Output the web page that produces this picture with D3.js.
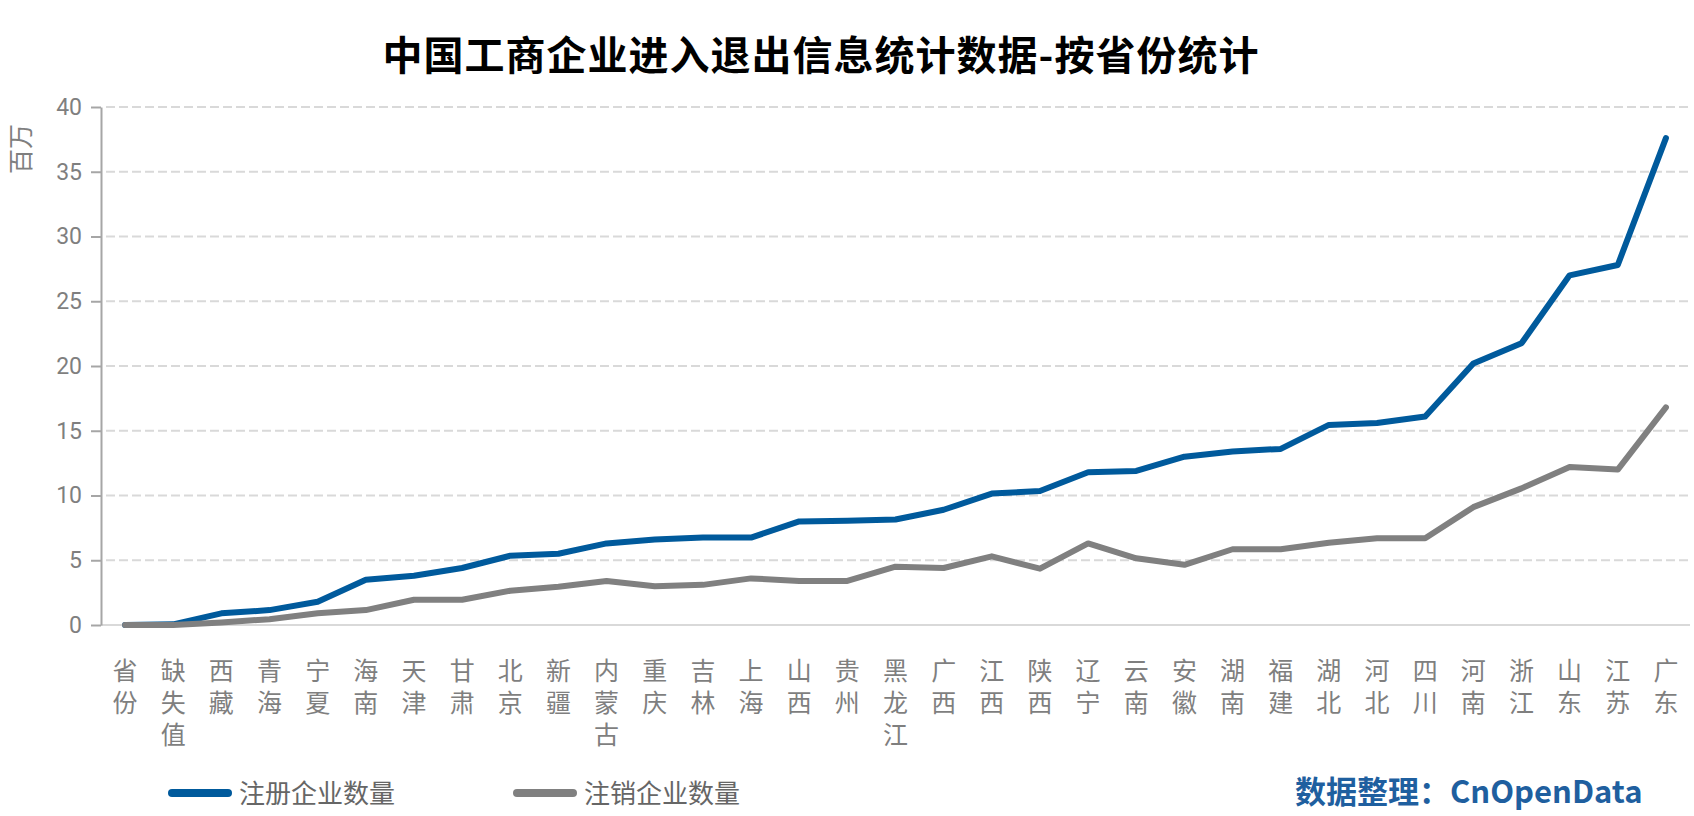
<!DOCTYPE html>
<meta charset="utf-8">
<style>
body { margin: 0; background: #fff; }
svg { display: block; }
.title { font-family: "Noto Sans CJK SC"; font-weight: bold; font-size: 40px; fill: #000; }
.axis--y text { font-family: Roboto, "Noto Sans"; font-size: 23px; fill: #7f7f7f; }
.axis--y path, .axis--y line { stroke: #a6a6a6; stroke-width: 2px; }
.xlabel { font-family: "Liberation Sans", "Noto Sans CJK SC"; font-size: 25px; fill: #7f7f7f; }
.grid line { stroke: #d9d9d9; stroke-width: 2px; stroke-dasharray: 9,4; }
.legend text { font-family: "Noto Sans CJK SC"; font-size: 26px; fill: #666; }
.source { font-family: "Noto Sans CJK SC"; font-weight: bold; font-size: 31px; fill: #1f5f9f; }
.ylabel { font-family: "Noto Sans CJK SC"; font-size: 25px; fill: #7f7f7f; }
</style>
<svg width="1694" height="816"></svg>
<script src="https://d3js.org/d3.v7.min.js"></script>
<script>

var provinces = ["省份","缺失值","西藏","青海","宁夏","海南","天津","甘肃","北京","新疆","内蒙古","重庆","吉林","上海","山西","贵州","黑龙江","广西","江西","陕西","辽宁","云南","安徽","湖南","福建","湖北","河北","四川","河南","浙江","山东","江苏","广东"];

// millions
var registered = [0, 0.05, 0.9, 1.15, 1.8, 3.5, 3.8, 4.4, 5.35, 5.5, 6.3, 6.6, 6.75, 6.75, 8.0, 8.05, 8.15, 8.9, 10.15, 10.35, 11.8, 11.9, 13.0, 13.4, 13.6, 15.45, 15.6, 16.1, 20.2, 21.75, 27.0, 27.8, 37.6];
var cancelled = [0, 0, 0.2, 0.45, 0.9, 1.15, 1.95, 1.95, 2.65, 2.95, 3.4, 3.0, 3.1, 3.6, 3.4, 3.4, 4.5, 4.4, 5.3, 4.35, 6.3, 5.15, 4.65, 5.85, 5.85, 6.35, 6.7, 6.7, 9.1, 10.55, 12.2, 12.0, 16.8];

var yTicks = [0, 5, 10, 15, 20, 25, 30, 35, 40];

var series = [
  { name: "注册企业数量", values: registered, color: "#005a9c" },
  { name: "注销企业数量", values: cancelled, color: "#808080" }
];

var svg = d3.select("svg");

var x = d3.scaleBand().domain(provinces).range([101, 1690]),
    y = d3.scaleLinear().domain([0, 40]).range([625, 107]);

function cx(d) { return x(d) + x.bandwidth() / 2; }

svg.append("text")
    .attr("class", "title")
    .attr("x", 821)
    .attr("y", 70)
    .attr("text-anchor", "middle")
    .style("letter-spacing", "1px")
    .text("中国工商企业进入退出信息统计数据-按省份统计");

// dashed grid
svg.append("g")
    .attr("class", "grid")
  .selectAll("line")
  .data(yTicks.filter(function(t) { return t > 0; }))
  .enter().append("line")
    .attr("x1", 106)
    .attr("x2", 1689)
    .attr("y1", function(d) { return y(d); })
    .attr("y2", function(d) { return y(d); });

// baseline
svg.append("line")
    .attr("x1", 101).attr("x2", 1690)
    .attr("y1", y(0)).attr("y2", y(0))
    .attr("stroke", "#d9d9d9")
    .attr("stroke-width", 2);

svg.append("g")
    .attr("class", "axis axis--y")
    .attr("transform", "translate(101,0)")
    .call(d3.axisLeft(y).tickValues(yTicks).tickSize(10).tickSizeOuter(0).tickPadding(9));

svg.append("text")
    .attr("class", "ylabel")
    .attr("transform", "translate(30,149) rotate(-90)")
    .attr("text-anchor", "middle")
    .text("百万");

// x labels, one character per line
var xlab = svg.append("g").attr("class", "axis--x");
provinces.forEach(function(p) {
  p.split("").forEach(function(ch, i) {
    xlab.append("text")
        .attr("class", "xlabel")
        .attr("x", cx(p))
        .attr("y", y(0) + 55 + i * 32)
        .attr("text-anchor", "middle")
        .text(ch);
  });
});

var line = d3.line()
    .x(function(d, i) { return cx(provinces[i]); })
    .y(function(d) { return y(d); });

svg.selectAll(".series")
  .data(series)
  .enter().append("path")
    .attr("class", "series")
    .attr("fill", "none")
    .attr("stroke", function(d) { return d.color; })
    .attr("stroke-width", 6)
    .attr("stroke-linejoin", "round")
    .attr("stroke-linecap", "round")
    .attr("d", function(d) { return line(d.values); });

// legend
var legend = svg.append("g").attr("class", "legend");
var legendX = [168, 513];
series.forEach(function(s, i) {
  var g = legend.append("g").attr("transform", "translate(" + legendX[i] + ",793)");
  g.append("line")
      .attr("x1", 4).attr("x2", 60)
      .attr("stroke", s.color)
      .attr("stroke-width", 8)
      .attr("stroke-linecap", "round");
  g.append("text")
      .attr("x", 71)
      .attr("y", 10)
      .text(s.name);
});

svg.append("text")
    .attr("class", "source")
    .attr("x", 1295)
    .attr("y", 803)
    .text("数据整理：CnOpenData");

</script>
